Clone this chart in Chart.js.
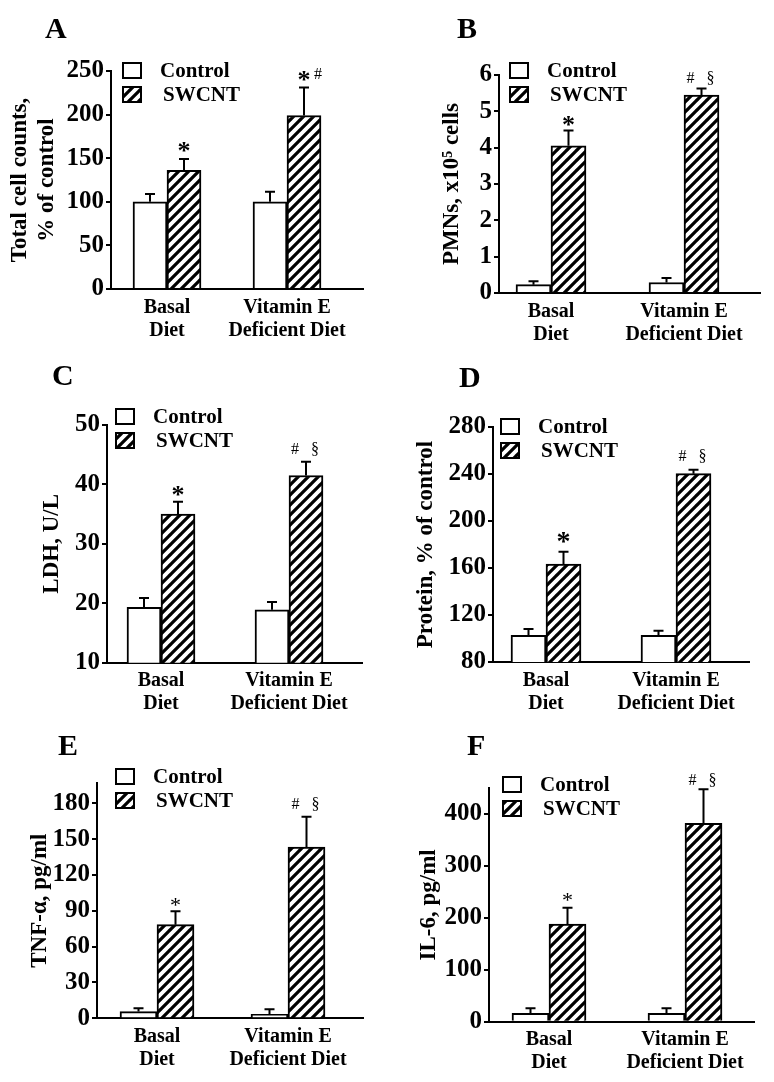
<!DOCTYPE html>
<html><head><meta charset="utf-8">
<script src="https://cdn.jsdelivr.net/npm/chart.js@4.4.0/dist/chart.umd.min.js"></script>
<style>
html,body{margin:0;padding:0;background:#fff;}
#wrap{position:relative;width:774px;height:1082px;overflow:hidden;background:#fff;}
canvas{position:absolute;}
</style></head><body><div id="wrap"></div>
<script>
// ---------- DATA ----------
const categories = [["Basal", "Diet"], ["Vitamin E", "Deficient Diet"]];
const seriesNames = ["Control", "SWCNT"];

// A: total cell counts, % of control
const cellControl = [100, 100];
const cellControlErr = [9, 11.5];
const cellSwcnt = [136, 199];
const cellSwcntErr = [13, 32];
const cellTicks = [0, 50, 100, 150, 200, 250];
const cellSig = ["*", "*#"];

// B: PMNs, x10^5 cells
const pmnControl = [0.23, 0.29];
const pmnControlErr = [0.09, 0.12];
const pmnSwcnt = [4.05, 5.45];
const pmnSwcntErr = [0.42, 0.18];
const pmnTicks = [0, 1, 2, 3, 4, 5, 6];
const pmnSig = ["*", "#§"];

// C: LDH, U/L
const ldhControl = [19.3, 18.9];
const ldhControlErr = [1.6, 1.3];
const ldhSwcnt = [35.0, 41.5];
const ldhSwcntErr = [2.1, 2.3];
const ldhTicks = [10, 20, 30, 40, 50];
const ldhSig = ["*", "#§"];

// D: Protein, % of control
const protControl = [102.7, 102.7];
const protControlErr = [5.3, 3.9];
const protSwcnt = [163.3, 240.3];
const protSwcntErr = [10.5, 3.4];
const protTicks = [80, 120, 160, 200, 240, 280];
const protSig = ["*", "#§"];

// E: TNF-alpha, pg/ml
const tnfControl = [5.6, 3.4];
const tnfControlErr = [2.8, 4.2];
const tnfSwcnt = [78.4, 143.3];
const tnfSwcntErr = [11.2, 25.5];
const tnfTicks = [0, 30, 60, 90, 120, 150, 180];
const tnfSig = ["*", "#§"];

// F: IL-6, pg/ml
const il6Control = [16, 16];
const il6ControlErr = [9.7, 9.7];
const il6Swcnt = [188, 382];
const il6SwcntErr = [31.6, 65.5];
const il6Ticks = [0, 100, 200, 300, 400];
const il6Sig = ["*", "#§"];

// ---------- LAYOUT ----------
const FONT = "'Liberation Serif','Times New Roman','DejaVu Serif',serif";
Chart.defaults.font.family = FONT;
Chart.defaults.color = '#000';

const panels = [
  {letter:'A', rect:[0,0,387,345], area:[111,71,363,289], centers:[167,287], bar:34,
   yMin:0, yMax:250, ticks:cellTicks, control:cellControl, controlErr:cellControlErr, swcnt:cellSwcnt, swcntErr:cellSwcntErr, sig:cellSig,
   title:["Total cell counts,", "% of control"], titleX:20, letterPos:[45,38], legendPos:[123,63], starFont:'bold 26px', starOff:13, sigOff:11},
  {letter:'B', rect:[387,0,387,345], area:[499,75,760,293], centers:[551,684], bar:35,
   yMin:0, yMax:6, ticks:pmnTicks, control:pmnControl, controlErr:pmnControlErr, swcnt:pmnSwcnt, swcntErr:pmnSwcntErr, sig:pmnSig,
   title:"PMNs, x10\u2075 cells", titleX:452, letterPos:[457,38], legendPos:[510,63], starFont:'bold 26px', starOff:11, sigOff:10},
  {letter:'C', rect:[0,345,387,375], area:[107,425,362,662.7], centers:[161,289], bar:34,
   yMin:10, yMax:50, ticks:ldhTicks, control:ldhControl, controlErr:ldhControlErr, swcnt:ldhSwcnt, swcntErr:ldhSwcntErr, sig:ldhSig,
   title:"LDH, U/L", titleX:52, letterPos:[52,385], legendPos:[116,409], starFont:'bold 26px', starOff:12, sigOff:12},
  {letter:'D', rect:[387,345,387,375], area:[493,427,749,662], centers:[546,676], bar:35,
   yMin:80, yMax:280, ticks:protTicks, control:protControl, controlErr:protControlErr, swcnt:protSwcnt, swcntErr:protSwcntErr, sig:protSig,
   title:"Protein, % of control", titleX:426, letterPos:[459,387], legendPos:[501,419], starFont:'bold 28px', starOff:16, sigOff:13},
  {letter:'E', rect:[0,720,387,362], area:[97,783,363,1018.3], centers:[157,288], bar:37,
   yMin:0, yMax:197, ticks:tnfTicks, control:tnfControl, controlErr:tnfControlErr, swcnt:tnfSwcnt, swcntErr:tnfSwcntErr, sig:tnfSig,
   title:"TNF-\u03b1, pg/ml", titleX:40, letterPos:[58,755], legendPos:[116,769], starFont:'22px', starOff:10, sigOff:12},
  {letter:'F', rect:[387,720,387,362], area:[489,788,754,1021.7], centers:[549,685], bar:37,
   yMin:0, yMax:450, ticks:il6Ticks, control:il6Control, controlErr:il6ControlErr, swcnt:il6Swcnt, swcntErr:il6SwcntErr, sig:il6Sig,
   title:"IL-6, pg/ml", titleX:429, letterPos:[467,755], legendPos:[503,777], starFont:'22px', starOff:12, sigOff:9},
];

// hatch pattern
function makeHatch() {
  const c = document.createElement('canvas');
  const s = 10; c.width = s; c.height = s;
  const g = c.getContext('2d');
  g.fillStyle = '#fff'; g.fillRect(0,0,s,s);
  g.strokeStyle = '#000'; g.lineWidth = 3.2; g.lineCap = 'square';
  g.beginPath();
  g.moveTo(-1, s+1); g.lineTo(s+1, -1);
  g.moveTo(-1, 1); g.lineTo(1, -1);
  g.moveTo(s-1, s+1); g.lineTo(s+1, s-1);
  g.stroke();
  return g.createPattern(c, 'repeat');
}
const hatch = makeHatch();

function panelOf(chart) { return chart.canvas.$panel; }

const decoPlugin = {
  id: 'deco',
  afterDatasetsDraw(chart) {
    const p = panelOf(chart); if (!p) return;
    const ctx = chart.ctx, ys = chart.scales.y;
    ctx.save();
    ctx.strokeStyle = '#000'; ctx.fillStyle = '#000'; ctx.lineWidth = 2;
    chart.data.datasets.forEach((ds, di) => {
      const meta = chart.getDatasetMeta(di);
      meta.data.forEach((bar, i) => {
        const v = ds.data[i].y, e = ds.errors[i];
        const yTop = ys.getPixelForValue(v + e);
        ctx.beginPath();
        ctx.moveTo(bar.x, bar.y); ctx.lineTo(bar.x, yTop);
        ctx.moveTo(bar.x - 5, yTop); ctx.lineTo(bar.x + 5, yTop);
        ctx.stroke();
        if (ds.sig && ds.sig[i]) {
          const s = ds.sig[i];
          ctx.textAlign = 'center';
          if (s.indexOf('*') >= 0) {
            ctx.font = p.starFont + ' ' + FONT;
            const sz = parseFloat(p.starFont.replace(/[^0-9.]/g,''));
            ctx.textBaseline = 'alphabetic';
            ctx.fillText('*', bar.x, yTop - p.starOff + sz * 0.5);
            if (s.indexOf('#') >= 0) {
              ctx.font = '16px ' + FONT; ctx.textBaseline = 'middle';
              ctx.fillText('#', bar.x + 14, yTop - p.starOff);
            }
          } else {
            ctx.font = '16px ' + FONT; ctx.textBaseline = 'middle';
            ctx.fillText('#', bar.x - 11, yTop - p.sigOff);
            ctx.fillText('\u00a7', bar.x + 9, yTop - p.sigOff);
          }
        }
      });
    });
    ctx.restore();
  },
  afterDraw(chart) {
    const p = panelOf(chart); if (!p) return;
    const ctx = chart.ctx;
    const ox = p.rect[0], oy = p.rect[1];
    ctx.save();
    // panel letter
    ctx.fillStyle = '#000';
    ctx.font = 'bold 30px ' + FONT;
    ctx.textAlign = 'left'; ctx.textBaseline = 'alphabetic';
    ctx.fillText(p.letter, p.letterPos[0] - ox, p.letterPos[1] - oy);
    // legend
    const lx = p.legendPos[0] - ox, ly = p.legendPos[1] - oy;
    const bw = 18, bh = 15, gap = 24;
    chart.data.datasets.forEach((ds, di) => {
      const by = ly + di * gap;
      ctx.fillStyle = ds.backgroundColor;
      ctx.fillRect(lx, by, bw, bh);
      ctx.strokeStyle = '#000'; ctx.lineWidth = 2;
      ctx.strokeRect(lx, by, bw, bh);
      ctx.fillStyle = '#000';
      ctx.font = 'bold 21px ' + FONT;
      ctx.textAlign = 'left';
      ctx.textBaseline = 'middle';
      ctx.fillText(ds.label, lx + 37 + di * 3, by + bh / 2 + 1);
    });
    ctx.restore();
  }
};

const wrap = document.getElementById('wrap');
panels.forEach(p => {
  const [cx, cy, cw, ch] = p.rect;
  const cv = document.createElement('canvas');
  cv.width = cw; cv.height = ch;
  cv.style.left = cx + 'px'; cv.style.top = cy + 'px';
  cv.style.width = cw + 'px'; cv.style.height = ch + 'px';
  cv.$panel = p;
  wrap.appendChild(cv);

  const left = p.area[0] - cx, top = p.area[1] - cy, right = p.area[2] - cx, bottom = p.area[3] - cy;
  const c1 = p.centers[0] - cx, c2 = p.centers[1] - cx;
  const sp = c2 - c1;
  const xMin = -(c1 - left) / sp;
  const xMax = xMin + (right - left) / sp;
  const titleSize = 23, titleLH = 1.18;
  const titlePad = (p.titleX - cx) - titleSize * titleLH / 2;

  new Chart(cv, {
    type: 'bar',
    data: {
      datasets: [
        {label: seriesNames[0], data: p.control.map((v, i) => ({x: i, y: v})), errors: p.controlErr,
         backgroundColor: '#fff', borderColor: '#000', borderWidth: 2, barThickness: p.bar},
        {label: seriesNames[1], data: p.swcnt.map((v, i) => ({x: i, y: v})), errors: p.swcntErr, sig: p.sig,
         backgroundColor: hatch, borderColor: '#000', borderWidth: 2, barThickness: p.bar}
      ]
    },
    options: {
      responsive: false, animation: false, devicePixelRatio: 1,
      layout: {padding: {left: 0, top: top, right: cw - right, bottom: 0}},
      plugins: {legend: {display: false}, tooltip: {enabled: false}},
      scales: {
        x: {
          type: 'linear', min: xMin, max: xMax, offset: false,
          afterBuildTicks: s => { s.ticks = categories.map((c, i) => ({value: i})); },
          afterFit: s => { s.height = ch - bottom; },
          grid: {display: false, drawTicks: false, offset: false},
          border: {display: true, color: '#000', width: 2},
          ticks: {callback: v => categories[v], autoSkip: false, maxRotation: 0, padding: 7,
                  font: {size: 20, weight: 'bold', lineHeight: 1.15}, color: '#000'}
        },
        y: {
          min: p.yMin, max: p.yMax,
          afterBuildTicks: s => { s.ticks = p.ticks.map(v => ({value: v})); },
          afterFit: s => { s.width = left; },
          grid: {display: true, drawOnChartArea: false, drawTicks: true, tickLength: 5, color: '#000', lineWidth: 2},
          border: {display: true, color: '#000', width: 2},
          ticks: {padding: 2, font: {size: 25, weight: 'bold'}, color: '#000'},
          title: {display: true, text: p.title, color: '#000',
                  font: {size: titleSize, weight: 'bold', lineHeight: titleLH},
                  padding: {top: titlePad, bottom: 0}}
        }
      }
    },
    plugins: [decoPlugin]
  });
});
</script>
</body></html>
